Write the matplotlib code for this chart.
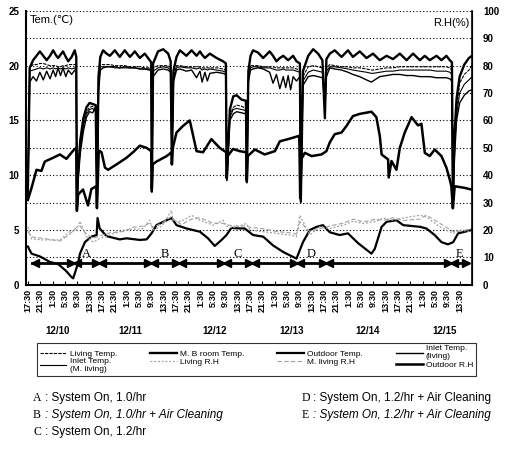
import numpy as np
import matplotlib.pyplot as plt
import matplotlib.transforms as mtransforms

plt.rcParams['font.family'] = ['Liberation Sans', 'DejaVu Sans']

# ---------------------------------------------------------------------
# DATA (hours counted from 12/9 17:30)
# ---------------------------------------------------------------------

# indoor temperatures, degC
t_in = [0.0, 0.6, 1.7, 2.8, 3.9, 5.0, 6.1, 7.2, 8.2, 9.0,
        9.8, 10.6, 11.4, 12.3, 13.1, 14.2, 15.2, 15.7, 15.9, 16.3,
        17.0, 18.0, 19.0, 20.0, 21.0, 22.0, 22.4, 22.9, 23.5, 24.4,
        25.5, 26.6, 28.2, 29.8, 31.4, 33.1, 34.7, 36.3, 37.9, 39.5,
        40.0, 40.2, 40.6, 42.2, 43.9, 45.5, 46.3, 46.7, 47.2, 48.2,
        49.3, 51.4, 53.1, 54.7, 55.8, 56.5, 57.4, 58.2, 59.0, 61.2,
        63.3, 64.2, 64.5, 65.5, 66.6, 67.7, 69.3, 70.7, 71.0, 71.5,
        72.2, 73.0, 74.6, 76.3, 78.4, 79.5, 80.6, 81.7, 82.8, 83.6,
        84.4, 85.2, 86.0, 87.1, 88.2, 88.5, 89.2, 90.9, 92.5, 94.1,
        95.5, 96.3, 96.8, 97.9, 99.5, 101.7, 103.8, 105.4, 107.6, 109.8,
        111.4, 111.9, 114.1, 116.3, 118.4, 120.6, 122.8, 124.9, 127.1, 128.7,
        130.3, 132.5, 134.1, 135.7, 136.8, 137.5, 137.8, 138.3, 139.0, 140.0,
        141.5, 143.0, 144.0]

mb_room_temp = [8.5, 19.8, 20.5, 20.9, 21.3, 20.9, 20.5, 20.9, 21.4, 21.0,
                20.7, 21.0, 21.3, 20.8, 20.4, 20.8, 21.4, 20.8, 7.0, 10.5,
                13.2, 15.2, 16.2, 16.6, 16.5, 16.4, 7.5, 19.0, 20.8, 21.4,
                21.1, 20.9, 21.4, 20.8, 21.4, 20.8, 21.3, 20.7, 21.1, 20.5,
                20.3, 8.5, 20.2, 21.3, 21.5, 21.1, 20.4, 11.0, 19.5, 20.8,
                21.4, 20.9, 21.4, 20.9, 21.3, 21.0, 20.7, 20.9, 21.1, 20.7,
                20.4, 20.2, 9.7, 16.0, 17.2, 17.3, 16.9, 16.8, 9.4, 19.5,
                20.9, 21.4, 21.2, 20.7, 21.3, 20.9, 20.4, 20.7, 20.9, 20.7,
                20.5, 20.7, 20.9, 20.4, 20.2, 7.6, 19.5, 20.9, 21.5, 21.1,
                20.5, 15.2, 20.6, 21.1, 21.4, 20.8, 21.4, 20.8, 21.3, 20.7,
                21.0, 21.1, 20.5, 20.9, 20.6, 21.1, 20.5, 21.1, 20.5, 20.9,
                20.5, 20.9, 20.5, 20.9, 20.5, 20.3, 7.0, 13.5, 17.0, 19.0,
                20.1, 20.7, 20.9]

living_temp = [8.2, 19.8, 20.1, 20.1, 20.2, 20.2, 20.1, 20.0, 20.0, 20.0,
               19.9, 19.9, 20.0, 20.0, 20.1, 20.1, 20.1, 20.0, 6.8, 10.0,
               12.8, 14.8, 15.8, 16.2, 16.3, 16.0, 7.3, 18.5, 20.1, 20.1,
               20.1, 20.1, 20.0, 20.0, 20.0, 19.9, 19.9, 19.9, 19.8, 19.8,
               19.8, 8.8, 19.8, 20.0, 20.0, 20.0, 19.8, 11.5, 19.0, 20.0,
               20.0, 19.9, 19.9, 19.9, 19.9, 19.8, 19.8, 19.8, 19.8, 19.8,
               19.7, 19.6, 9.5, 15.5, 16.2, 16.4, 16.3, 16.1, 9.6, 19.0,
               20.0, 20.0, 20.0, 19.9, 19.9, 19.9, 19.8, 19.8, 19.8, 19.8,
               19.8, 19.8, 19.8, 19.7, 19.6, 7.8, 19.0, 19.9, 20.0, 19.9,
               19.8, 17.0, 19.8, 20.1, 20.0, 19.9, 19.9, 19.8, 19.8, 19.7,
               19.6, 19.6, 19.7, 19.8, 19.8, 19.9, 19.9, 19.9, 19.9, 19.9,
               19.9, 19.9, 19.9, 19.9, 19.8, 19.6, 7.2, 12.5, 16.0, 18.4,
               19.2, 19.6, 20.0]

inlet_living = [7.8, 18.5, 19.0, 18.6, 19.4, 18.7, 19.5, 18.8, 19.6, 19.0,
                19.8, 19.1, 19.8, 19.0, 19.6, 19.2, 19.6, 19.4, 7.2, 9.5,
                12.0, 14.0, 15.3, 15.8, 15.7, 16.2, 7.0, 17.5, 19.6, 19.8,
                19.9, 19.9, 19.9, 19.8, 19.9, 19.8, 19.8, 19.7, 19.7, 19.6,
                19.5, 9.0, 19.0, 19.6, 19.7, 19.6, 19.4, 11.8, 18.5, 19.6,
                19.7, 19.5, 19.6, 18.9, 19.5, 18.5, 19.4, 18.6, 19.3, 19.4,
                19.3, 19.2, 9.9, 15.0, 15.6, 15.8, 15.7, 15.6, 9.3, 18.5,
                19.6, 19.7, 19.8, 19.7, 19.4, 18.4, 19.2, 17.9, 19.0, 18.0,
                19.1, 17.8, 19.0, 18.6, 19.0, 7.5, 18.2, 19.0, 19.1, 19.0,
                18.9, 16.5, 19.0, 19.8, 19.7, 19.6, 19.4, 19.2, 19.0, 18.7,
                18.5, 18.6, 19.0, 19.1, 19.2, 19.2, 19.1, 19.1, 19.0, 19.0,
                19.0, 18.9, 18.9, 18.9, 18.8, 18.6, 7.4, 11.5, 15.0, 16.6,
                17.3, 17.7, 17.8]

inlet_mliving = [8.0, 19.5, 19.6, 19.7, 19.8, 19.7, 19.8, 19.7, 19.8, 19.7,
                 19.8, 19.7, 19.8, 19.7, 19.8, 19.7, 19.8, 19.6, 7.5, 9.8,
                 12.5, 14.5, 15.6, 16.0, 16.1, 15.8, 7.2, 18.0, 19.9, 19.9,
                 19.9, 19.9, 19.8, 19.8, 19.8, 19.8, 19.8, 19.7, 19.7, 19.7,
                 19.6, 8.6, 19.5, 19.8, 19.9, 19.8, 19.6, 11.2, 18.8, 19.8,
                 19.9, 19.8, 19.8, 19.7, 19.8, 19.6, 19.7, 19.6, 19.7, 19.6,
                 19.5, 19.4, 9.6, 15.3, 16.0, 16.1, 16.0, 15.9, 9.5, 18.8,
                 19.8, 19.9, 19.9, 19.8, 19.8, 19.7, 19.6, 19.6, 19.7, 19.6,
                 19.6, 19.6, 19.6, 19.5, 19.4, 7.9, 18.6, 19.4, 19.6, 19.5,
                 19.4, 16.8, 19.5, 19.9, 19.9, 19.8, 19.7, 19.6, 19.5, 19.4,
                 19.3, 19.3, 19.4, 19.5, 19.5, 19.6, 19.6, 19.6, 19.6, 19.6,
                 19.6, 19.5, 19.5, 19.5, 19.4, 19.2, 7.1, 12.0, 15.5, 17.5,
                 18.3, 18.7, 19.0]

# outdoor temperature, degC
t_out = [0.0, 1.2, 3.9, 7.1, 9.8, 12.3, 14.2, 14.7, 16.3, 16.9,
         18.5, 20.6, 22.3, 22.6, 23.3, 25.5, 29.8, 32.0, 36.3, 38.5,
         40.1, 41.7, 45.0, 46.6, 48.2, 51.4, 55.8, 58.4, 60.6, 62.8,
         64.4, 66.0, 68.7, 70.3, 73.0, 76.3, 79.5, 82.8, 86.0, 87.1,
         89.2, 91.4, 93.6, 95.7, 97.9, 101.1, 103.8, 107.1, 108.7, 111.4,
         112.5, 114.7, 116.3, 119.5, 121.7, 127.1, 129.2, 131.9, 134.1, 136.2,
         137.9, 139.5, 141.7, 143.8]
outdoor_temp = [3.5, 2.85, 2.6, 2.1, 1.9, 1.3, 0.7, 0.6, 2.0, 2.85,
                3.9, 4.4, 4.55, 6.1, 5.15, 4.45, 4.15, 4.25, 4.1, 4.15,
                4.7, 5.45, 5.9, 6.1, 5.45, 5.15, 4.85, 4.25, 3.55, 4.1,
                4.55, 5.2, 5.15, 5.15, 4.55, 4.4, 3.6, 3.0, 2.55, 2.4,
                3.9, 5.0, 5.3, 5.45, 4.8, 4.55, 4.7, 3.8, 3.45, 2.85,
                3.3, 5.3, 5.75, 5.9, 5.45, 5.3, 5.15, 4.55, 3.9, 3.7,
                3.9, 4.7, 4.85, 5.0]

# outdoor relative humidity, %
t_orh = [0.0, 1.2, 2.8, 4.4, 5.5, 8.2, 10.4, 12.5, 14.7, 15.7,
         15.9, 16.3, 17.9, 19.5, 20.6, 22.2, 22.4, 23.0, 23.9, 25.0,
         26.0, 28.8, 32.0, 34.1, 36.3, 38.5, 40.0, 40.2, 40.5, 41.7,
         45.0, 46.6, 46.7, 47.0, 48.2, 50.3, 52.5, 53.6, 54.7, 56.8,
         59.5, 62.2, 64.3, 64.5, 64.8, 66.5, 68.7, 70.8, 71.0, 71.3,
         73.6, 76.8, 80.1, 81.7, 84.4, 88.0, 88.3, 88.7, 89.8, 92.0,
         95.2, 96.8, 97.9, 99.5, 101.7, 103.3, 105.4, 107.6, 111.4, 113.0,
         114.1, 114.7, 116.8, 117.0, 117.9, 119.5, 120.6, 122.2, 124.4, 126.5,
         127.6, 128.7, 130.3, 131.9, 134.1, 135.7, 136.8, 137.3, 137.8, 138.4,
         141.6, 143.8]
outdoor_rh = [31, 35.4, 42, 41.6, 45, 46.4, 47.6, 46, 49, 50,
              27, 33, 34.8, 29, 35, 36, 28, 49, 48.4, 42.8,
              42, 44, 46.4, 48.4, 50.8, 50, 48.8, 35, 44, 45,
              47, 48.4, 44, 50, 55.6, 58, 60, 54.4, 48.8, 48.4,
              53.2, 50, 48.4, 39, 47, 49.6, 48.8, 48.4, 38.4, 47,
              49.4, 47.6, 48.8, 52.4, 53.2, 54.4, 31.6, 46, 48.2, 47,
              47.6, 48.8, 52, 55, 55.6, 58, 61.6, 62.4, 63.2, 61.2,
              54.4, 47.6, 45.8, 39.2, 45.2, 42, 50, 55.6, 61.2, 58.2,
              58.8, 48.2, 47, 49.4, 47, 42.8, 38.4, 36, 28, 36,
              35.4, 34.8]

# indoor relative humidity, %
t_rh = [0.0, 1.2, 4.9, 10.4, 13.6, 15.8, 16.9, 19.0, 21.2, 23.5,
        26.6, 31.1, 34.1, 37.4, 39.5, 40.6, 43.5, 46.6, 47.1, 49.8,
        53.1, 55.8, 60.1, 63.3, 64.4, 66.5, 70.9, 72.0, 76.3, 80.6,
        84.9, 87.1, 88.2, 91.4, 94.6, 97.9, 102.2, 105.5, 108.7, 113.0,
        115.2, 118.4, 121.7, 127.1, 129.2, 133.5, 135.7, 137.9, 140.0, 143.8]
living_rh = [21.2, 16.8, 16.4, 16.4, 19.4, 20.0, 23.2, 17.6, 15.6, 17.0,
             18.2, 20.0, 20.2, 20.6, 23.6, 20.0, 21.5, 27.2, 23.2, 23.2,
             25.4, 23.6, 21.8, 23.6, 21.4, 20.8, 22.4, 20.0, 19.4, 18.8,
             18.2, 17.6, 25.4, 18.2, 21.2, 20.6, 21.8, 23.2, 22.4, 23.2,
             24.4, 23.6, 24.4, 25.4, 24.8, 21.2, 20.0, 18.8, 20.0, 19.4]
mliving_rh = [19.5, 17.5, 17.0, 16.0, 18.5, 21.0, 21.5, 18.5, 17.0, 18.0,
              19.0, 19.5, 21.0, 21.5, 22.5, 21.0, 22.5, 25.0, 24.0, 22.0,
              24.0, 24.5, 22.5, 22.5, 22.0, 21.5, 21.5, 21.0, 20.5, 19.5,
              19.0, 18.5, 23.0, 19.5, 20.5, 21.5, 22.5, 24.0, 23.0, 24.0,
              23.5, 24.5, 23.5, 24.0, 25.5, 22.5, 21.0, 19.5, 19.5, 20.5]

# operating periods
period_names = ["A", "B", "C", "D", "E"]
period_start = [15.0, 39.9, 63.5, 87.2, 137.1]
period_end = [23.0, 48.9, 72.6, 96.6, 142.8]
bar_start = 1.3
bar_level = 2.0

clock = ["17:30", "21:30", "1:30", "5:30", "9:30", "13:30"]
tick_labels = (clock * 6)[:36]
dates = ["12/10", "12/11", "12/12", "12/13", "12/14", "12/15"]
date_pos = [9.7, 33.1, 60.6, 85.6, 110.2, 135.2]

notes_left = [("A", ": System On, 1.0/hr", "normal"),
              ("B", ": System On, 1.0/hr + Air Cleaning", "italic"),
              ("C", ": System On, 1.2/hr", "normal")]
notes_right = [("D", ": System On, 1.2/hr + Air Cleaning", "normal"),
               ("E", ": System On, 1.2/hr + Air Cleaning", "italic")]


# ---------------------------------------------------------------------
# FIGURE
# ---------------------------------------------------------------------

fig = plt.figure(figsize=(5.22, 4.49), dpi=100)
ax = fig.add_axes([0.0498, 0.3655, 0.8544, 0.6103])
ax2 = ax.twinx()

gray = "#a0a0a0"
h_rh1, = ax2.plot(t_rh, living_rh, color=gray, lw=0.9, ls=(0, (1.5, 1.5)))
h_rh2, = ax2.plot(t_rh, mliving_rh, color=gray, lw=0.8, ls=(0, (4, 2)))
h_orh, = ax2.plot(t_orh, outdoor_rh, color="black", lw=1.8)

h_inm, = ax.plot(t_in, inlet_mliving, color="black", lw=0.8)
h_inl, = ax.plot(t_in, inlet_living, color="black", lw=1.0)
h_liv, = ax.plot(t_in, living_temp, color="black", lw=0.8, ls=(0, (3, 1)))
h_mb, = ax.plot(t_in, mb_room_temp, color="black", lw=1.7)
h_out, = ax.plot(t_out, outdoor_temp, color="black", lw=1.6)

# period bar with bow-tie arrow heads
ax.plot([bar_start, period_end[-1]], [bar_level, bar_level], color="black", lw=2, zorder=5)
ax.plot([bar_start + 0.9], [bar_level], marker="<", color="black", ms=5.5, zorder=6)
for s, e, name in zip(period_start, period_end, period_names):
    for b in (s, e):
        if b == period_end[-1]:
            ax.plot([b - 0.9], [bar_level], marker=">", color="black", ms=5.5, zorder=6)
            continue
        ax.plot([b - 1.0], [bar_level], marker=">", color="black", ms=5.5, zorder=6)
        ax.plot([b + 1.0], [bar_level], marker="<", color="black", ms=5.5, zorder=6)
    ax.text((s + e) / 2, bar_level + 0.25, name, family="Liberation Serif",
            fontsize=9, ha="center", va="bottom", zorder=7)

# axes
ax.set_xlim(-0.6, 144)
ax.set_ylim(0, 25)
ax2.set_ylim(0, 100)

ax.set_yticks(np.arange(0, 26, 5))
ax.set_yticks(np.arange(2.5, 25, 5), minor=True)
ax.grid(axis="y", which="both", color="black", lw=0.8, ls=(0, (1, 2)))
ax.set_yticklabels([str(v) for v in range(0, 26, 5)], fontsize=7, fontweight="bold")
ax.tick_params(axis="y", which="both", length=0, pad=5)

ax2.set_yticks(np.arange(0, 101, 10))
ax2.set_yticklabels([str(v) for v in range(0, 101, 10)], fontsize=7, fontweight="bold")
ax2.tick_params(axis="y", length=0, pad=8)

ax.set_xticks(np.arange(0, 141, 4))
ax.set_xticklabels(tick_labels, rotation=90, fontsize=6.5, fontweight="bold")
ax.tick_params(axis="x", direction="in", length=3, pad=3)

for a in (ax, ax2):
    a.spines["top"].set_visible(False)
ax2.spines["left"].set_visible(False)
ax2.spines["bottom"].set_visible(False)
ax.spines["left"].set_linewidth(1.5)
ax.spines["bottom"].set_linewidth(1.5)
ax2.spines["right"].set_linewidth(1.2)

ax.text(0.008, 0.985, "Tem.(\u2103)", transform=ax.transAxes, fontsize=8, va="top", ha="left")
ax.text(0.995, 0.975, "R.H(%)", transform=ax.transAxes, fontsize=8, va="top", ha="right")

trans = mtransforms.blended_transform_factory(ax.transData, fig.transFigure)
for d, p in zip(dates, date_pos):
    ax.text(p, 1 - 331 / 449, d, transform=trans, fontsize=7, fontweight="bold",
            ha="center", va="center")

# legend (row-wise order)
handles = [h_liv, h_inm, h_mb, h_rh1, h_out, h_rh2, h_inl, h_orh]
labels = ["Living Temp.", "Inlet Temp.\n(M. living)", "M. B room Temp.", "Living R.H",
          "Outdoor Temp.", "M. living R.H", "Inlet Temp.\n(living)", "Outdoor R.H"]
leg = fig.legend(handles, labels, ncol=4, loc="lower left", mode="expand",
                 bbox_to_anchor=(33 / 522, 1 - 380 / 449, 447 / 522, 40 / 449),
                 fontsize=6, frameon=True, fancybox=False, handlelength=3.2,
                 handletextpad=0.4, labelspacing=0.1, borderpad=0.3, columnspacing=0.8)
leg.get_frame().set_edgecolor("black")
leg.get_frame().set_linewidth(0.8)

# period notes
for i, (k, txt, style) in enumerate(notes_left):
    y = 1 - (398 + 17 * i) / 449
    fig.text(33 / 522, y, k, family="Liberation Serif", fontsize=8.5, va="center")
    fig.text(45 / 522, y, txt, fontsize=8.5, style=style, va="center")
for i, (k, txt, style) in enumerate(notes_right):
    y = 1 - (398 + 17 * i) / 449
    fig.text(302 / 522, y, k, family="Liberation Serif", fontsize=8.5, va="center")
    fig.text(313 / 522, y, txt, fontsize=8.5, style=style, va="center")

fig.savefig("out.png", dpi=100)
